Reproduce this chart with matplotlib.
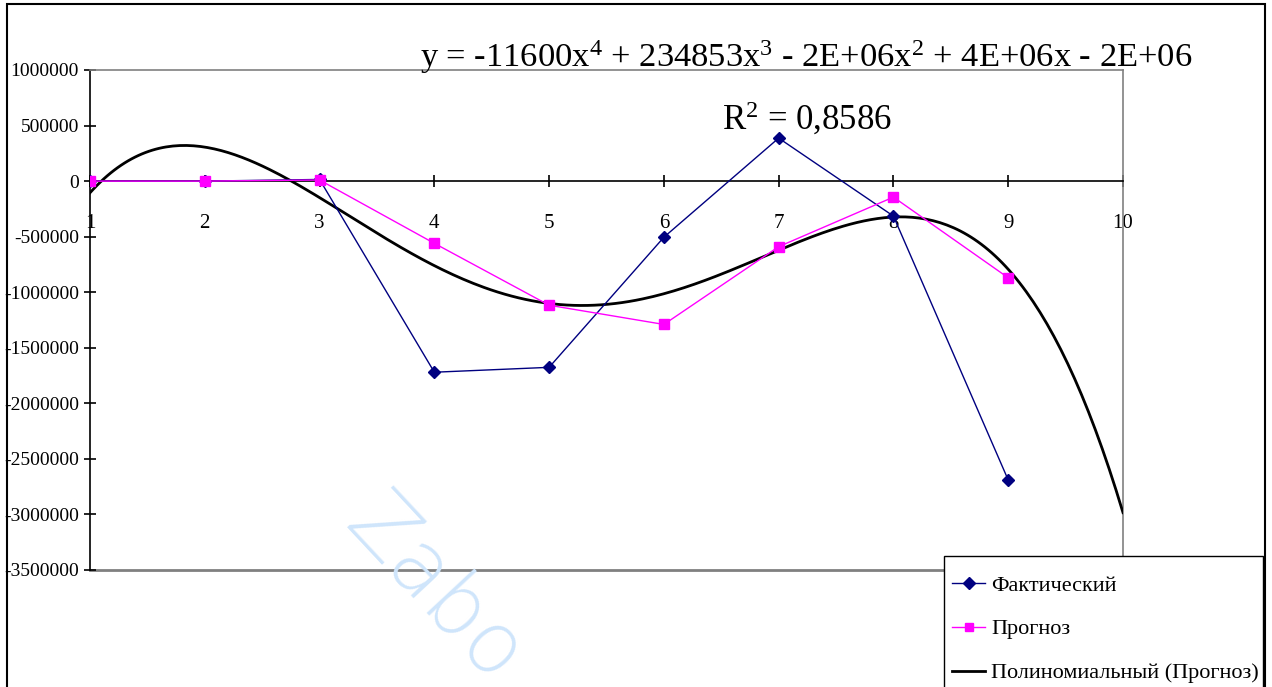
import numpy as np
import matplotlib
matplotlib.use("Agg")
import matplotlib.pyplot as plt
from matplotlib.patches import Rectangle
from matplotlib.lines import Line2D

# ---- data ----
periods = [1, 2, 3, 4, 5, 6, 7, 8, 9]
actual = [0, 0, 15000, -1720000, -1676000, -505000, 387000, -315000, -2690000]
forecast = [0, 0, 10000, -560000, -1117000, -1290000, -590000, -144000, -870000]
x_ticks = [1, 2, 3, 4, 5, 6, 7, 8, 9, 10]
y_ticks = [1000000, 500000, 0, -500000, -1000000, -1500000, -2000000,
           -2500000, -3000000, -3500000]
series_names = ["Фактический", "Прогноз", "Полиномиальный (Прогноз)"]
equation_text = "y = -11600x$^4$ + 234853x$^3$ - 2E+06x$^2$ + 4E+06x - 2E+06"
r2_text = "R$^2$ = 0,8586"

plt.rcParams['font.family'] = ['Liberation Serif', 'DejaVu Serif']
plt.rcParams['mathtext.fontset'] = 'custom'
plt.rcParams['mathtext.rm'] = 'Liberation Serif'
plt.rcParams['mathtext.it'] = 'Liberation Serif'
plt.rcParams['axes.unicode_minus'] = False

W, H = 1272, 687
fig = plt.figure(figsize=(W / 100, H / 100), dpi=100)
fig.patch.set_facecolor('white')

ax = fig.add_axes([90 / W, 1 - 570 / H, (1123 - 90) / W, (570 - 70) / H])

# trendline: 4th-order polynomial fit to forecast, extended one period
coef = np.polyfit(periods, forecast, 4)
xs = np.linspace(1, 10, 300)
ax.plot(xs, np.polyval(coef, xs), color='black', lw=2.0, zorder=3)

ax.plot(periods, actual, color='#000080', lw=1.0, marker='D', ms=6.5,
        mfc='#000080', mec='#000080', zorder=4)
ax.plot(periods, forecast, color='#FF00FF', lw=1.0, marker='s', ms=6.5,
        mfc='#FF00FF', mec='#FF00FF', zorder=4)

ax.set_xlim(1, 10)
ax.set_ylim(-3500000, 1000000)

# spines
for s in ['top', 'right']:
    ax.spines[s].set_color('#808080')
    ax.spines[s].set_linewidth(1.2)
ax.spines['left'].set_color('black')
ax.spines['left'].set_linewidth(1.2)
ax.spines['bottom'].set_position(('data', 0))
ax.spines['bottom'].set_color('black')
ax.spines['bottom'].set_linewidth(1.2)
ax.axhline(-3500000, color='#808080', lw=2.0, clip_on=False, zorder=1)

ax.set_xticks(x_ticks)
ax.set_xticklabels([str(v) for v in x_ticks])
ax.set_yticks(y_ticks)
ax.set_yticklabels([str(v) for v in y_ticks])
ax.tick_params(axis='x', direction='inout', length=9, width=1.2, pad=19,
               labelsize=15, color='black')
ax.tick_params(axis='y', direction='inout', length=8, width=1.2, pad=4,
               labelsize=14, color='black')

# equation and R^2
fig.text(420 / W, 1 - 67 / H, equation_text, fontsize=24.8, ha='left',
         va='baseline', zorder=10)
fig.text(722 / W, 1 - 130 / H, r2_text, fontsize=25, ha='left',
         va='baseline', zorder=10)

# watermark
fig.text(360 / W, 1 - 510 / H, "Zabo", fontsize=62, color='#cfe5fb',
         rotation=-47, rotation_mode='anchor', ha='left', va='center',
         family='DejaVu Sans', fontweight='light', zorder=0)

# legend (frame drawn separately so it can run past the bottom edge)
handles = [
    Line2D([], [], color='#000080', lw=1.0, marker='D', ms=6, mfc='#000080'),
    Line2D([], [], color='#FF00FF', lw=1.0, marker='s', ms=6, mfc='#FF00FF'),
    Line2D([], [], color='black', lw=2.0),
]
leg = fig.legend(handles, series_names, loc='upper left',
                 bbox_to_anchor=(952 / W, 1 - 575 / H), fontsize=16,
                 frameon=False, handlelength=1.5, handletextpad=0.25,
                 labelspacing=1.05, borderpad=0, borderaxespad=0)
fig.patches.append(Rectangle((944 / W, -0.2), (1263 - 944) / W,
                             0.2 + 1 - 556 / H, transform=fig.transFigure,
                             fill=True, facecolor='white',
                             edgecolor='black', lw=1.0, zorder=5))

# outer chart frame
fig.patches.append(Rectangle((7 / W, -0.2), (1265 - 7) / W, 1.2 - 4 / H,
                             transform=fig.transFigure, fill=False,
                             edgecolor='black', lw=1.5))

fig.savefig('out.png', dpi=100)
